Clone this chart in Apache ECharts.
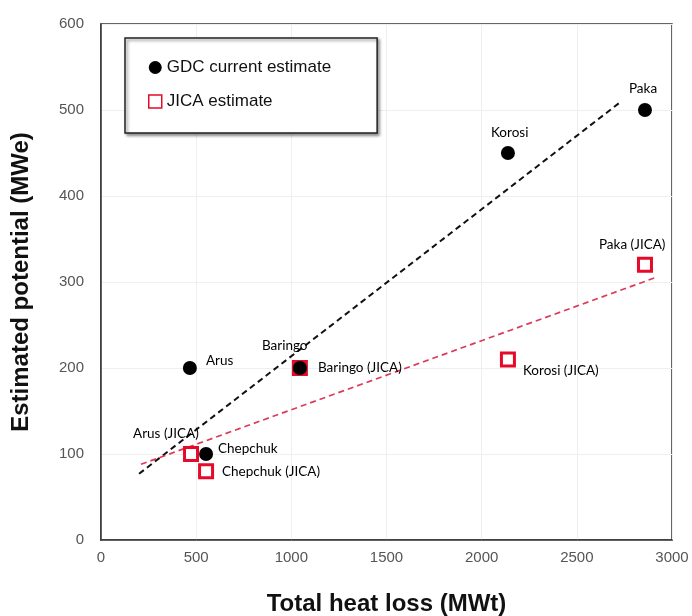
<!DOCTYPE html>
<html>
<head>
<meta charset="utf-8">
<script src="https://cdn.jsdelivr.net/npm/echarts@6/dist/echarts.min.js"></script>
<style>html,body{margin:0;padding:0;background:#fff;}#chart{width:692px;height:616px;}</style>
</head>
<body>
<div id="chart"></div>
<script>
// ---- data ----
const gdcNames = ['Arus', 'Baringo', 'Chepchuk', 'Korosi', 'Paka'];
const gdcHeat = [467, 1045, 552, 2138, 2858];
const gdcPotential = [200, 200, 100, 450, 500];

const jicaNames = ['Arus (JICA)', 'Baringo (JICA)', 'Chepchuk (JICA)', 'Korosi (JICA)', 'Paka (JICA)'];
const jicaHeat = [473, 1045, 552, 2138, 2858];
const jicaPotential = [100, 200, 80, 210, 320];

const gdcTrendX = [200, 2722];
const gdcTrendY = [77, 508];
const jicaTrendX = [210, 2911];
const jicaTrendY = [88, 305];

const xTicks = [0, 500, 1000, 1500, 2000, 2500, 3000];
const yTicks = [0, 100, 200, 300, 400, 500, 600];

// label placement (pixels from marker centre: left edge x, middle y)
const labelPlace = {
  'Paka': [-16, -21], 'Korosi': [-17, -20], 'Arus': [16, -7], 'Baringo': [-38, -22], 'Chepchuk': [12, -5],
  'Arus (JICA)': [-58, -20], 'Baringo (JICA)': [18, 0], 'Chepchuk (JICA)': [16, 0],
  'Korosi (JICA)': [15, 11], 'Paka (JICA)': [-46, -20]
};

function pts(names, xs, ys) {
  return names.map((n, i) => ({
    name: n, value: [xs[i], ys[i]],
    label: { offset: labelPlace[n] }
  }));
}
function line(xs, ys) { return xs.map((x, i) => [x, ys[i]]); }

const labelStyle = {
  show: true, position: 'inside', align: 'left', verticalAlign: 'middle',
  formatter: p => p.name, fontFamily: 'Lato', fontSize: 13.5, color: '#000'
};

const chart = echarts.init(document.getElementById('chart'), null, { renderer: 'canvas' });
chart.setOption({
  animation: false,
  backgroundColor: '#fff',
  grid: { left: 101, right: 20, top: 24, bottom: 76, outerBoundsMode: 'none', containLabel: false, show: true, borderColor: '#333', borderWidth: 1.5, backgroundColor: 'transparent' },
  legend: {
    orient: 'vertical', left: 125, top: 38,
    data: [
      { name: 'GDC current estimate', icon: 'circle' },
      { name: 'JICA estimate', icon: 'rect', itemStyle: { borderWidth: 1.5 } }
    ],
    itemWidth: 13, itemHeight: 13, itemGap: 17,
    padding: [21, 46, 23, 23],
    textStyle: { fontFamily: 'Liberation Sans', fontSize: 17, color: '#111' },
    borderColor: '#222', borderWidth: 1.5, backgroundColor: '#fff',
    shadowColor: 'rgba(0,0,0,0.45)', shadowBlur: 3, shadowOffsetX: 2, shadowOffsetY: 2
  },
  xAxis: {
    type: 'value', min: 0, max: 3000, interval: 500,
    name: 'Total heat loss (MWt)', nameLocation: 'middle', nameGap: 52,
    nameTextStyle: { fontFamily: 'Liberation Sans', fontWeight: 'bold', fontSize: 24, color: '#111' },
    axisLine: { show: true, lineStyle: { color: '#333', width: 1.5 } },
    axisTick: { show: false },
    axisLabel: { margin: 10, fontFamily: 'Liberation Sans', fontSize: 15, color: '#555', formatter: v => String(v), customValues: xTicks },
    splitLine: { show: true, lineStyle: { color: '#efefef' } }
  },
  yAxis: {
    type: 'value', min: 0, max: 600, interval: 100,
    name: 'Estimated potential (MWe)', nameLocation: 'middle', nameGap: 68,
    nameTextStyle: { fontFamily: 'Liberation Sans', fontWeight: 'bold', fontSize: 24, color: '#111' },
    axisLine: { show: true, lineStyle: { color: '#333', width: 1.5 } },
    axisTick: { show: false },
    axisLabel: { margin: 17, fontFamily: 'Liberation Sans', fontSize: 15, color: '#555', formatter: v => String(v), customValues: yTicks },
    splitLine: { show: true, lineStyle: { color: '#efefef' } }
  },
  series: [
    {
      name: 'GDC trend', type: 'line', data: line(gdcTrendX, gdcTrendY), symbol: 'none',
      lineStyle: { color: '#111', width: 2, type: [6, 4] }, silent: true, z: 1
    },
    {
      name: 'JICA trend', type: 'line', data: line(jicaTrendX, jicaTrendY), symbol: 'none',
      lineStyle: { color: '#dc3b57', width: 1.7, type: [6, 4] }, silent: true, z: 1
    },
    {
      name: 'JICA estimate', type: 'scatter', symbol: 'rect', symbolSize: 13,
      itemStyle: { color: '#fff', borderColor: '#e60a2a', borderWidth: 3, opacity: 1 },
      label: labelStyle, data: pts(jicaNames, jicaHeat, jicaPotential), z: 3
    },
    {
      name: 'GDC current estimate', type: 'scatter', symbol: 'circle', symbolSize: 14,
      itemStyle: { color: '#000', opacity: 1 },
      label: labelStyle, data: pts(gdcNames, gdcHeat, gdcPotential), z: 4
    }
  ]
});
</script>
</body>
</html>
